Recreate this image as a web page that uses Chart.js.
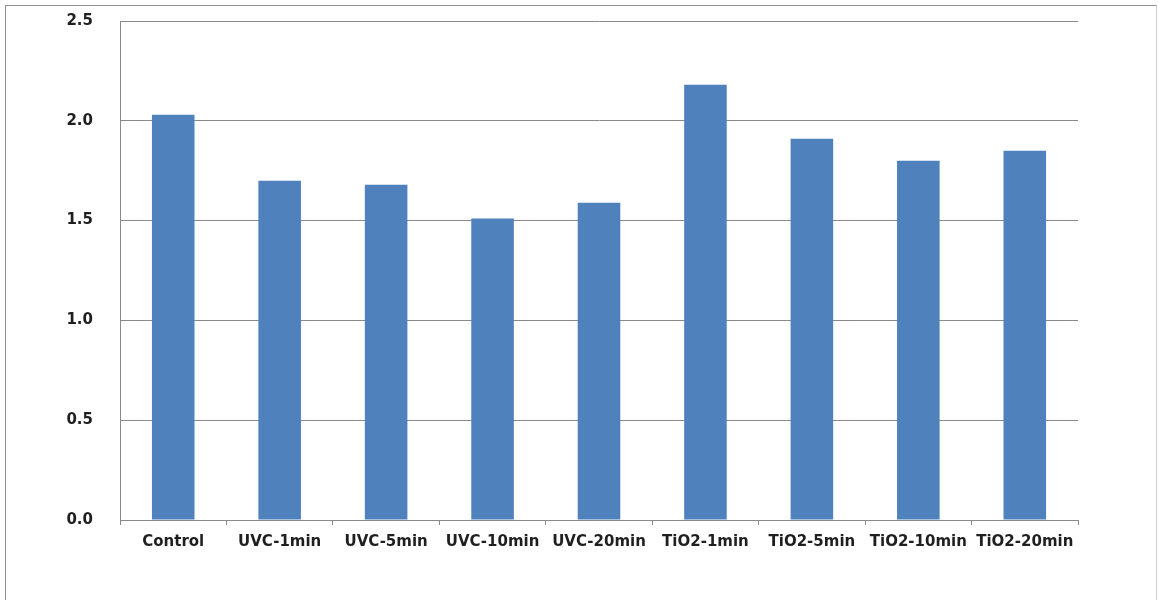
<!DOCTYPE html>
<html>
<head>
<meta charset="utf-8">
<script src="https://cdn.jsdelivr.net/npm/chart.js@4.4.1/dist/chart.umd.min.js"></script>
<style>
  html, body { margin: 0; padding: 0; background: #ffffff; overflow: hidden; }
  #frame {
    position: absolute; left: 5px; top: 5px;
    width: 1152px; height: 620px;
    border-left: 1px solid #8f8f8f;
    border-top: 1px solid #8f8f8f;
    border-right: 1px solid #d2d2d2;
    box-sizing: border-box;
  }
  #chart { position: absolute; left: 0; top: 0; }
</style>
</head>
<body>
<div id="frame"></div>
<canvas id="chart" width="1159" height="600"></canvas>
<script>
// Treatment groups along the x axis
const categories = ['Control', 'UVC-1min', 'UVC-5min', 'UVC-10min', 'UVC-20min',
                    'TiO2-1min', 'TiO2-5min', 'TiO2-10min', 'TiO2-20min'];
// Measured value per treatment
const values = [2.03, 1.70, 1.68, 1.51, 1.59, 2.18, 1.91, 1.80, 1.85];
// Value axis ticks
const yTicks = [0.0, 0.5, 1.0, 1.5, 2.0, 2.5];

const labelFont = { family: "'DejaVu Sans', sans-serif", size: 15, weight: 'bold' };
const axisGray = '#8a8a8a';

new Chart(document.getElementById('chart'), {
  type: 'bar',
  data: {
    labels: categories,
    datasets: [{
      data: values,
      backgroundColor: '#4f81bd',
      borderWidth: 0,
      barPercentage: 0.4,
      categoryPercentage: 1.0
    }]
  },
  options: {
    responsive: false,
    animation: false,
    events: [],
    layout: { padding: { left: 0, right: 81, top: 21, bottom: 40 } },
    plugins: { legend: { display: false }, tooltip: { enabled: false } },
    scales: {
      x: {
        grid: {
          offset: true,
          drawOnChartArea: false,
          drawTicks: true,
          tickLength: 5,
          color: axisGray,
          lineWidth: 1
        },
        border: { display: true, color: axisGray, width: 1 },
        ticks: { color: '#1f1f1f', font: labelFont, padding: 8, maxRotation: 0, autoSkip: false },
        afterFit: (scale) => { scale.height = 40; }
      },
      y: {
        min: 0,
        max: 2.5,
        afterBuildTicks: (scale) => { scale.ticks = yTicks.map(v => ({ value: v })); },
        // invisible tick marks leave the gap between labels and the axis
        grid: { drawTicks: true, tickLength: 27, tickColor: 'rgba(0,0,0,0)', color: axisGray, lineWidth: 1 },
        border: { display: true, color: axisGray, width: 1 },
        ticks: {
          color: '#1f1f1f',
          font: labelFont,
          padding: 0,
          callback: (v) => Number(v).toFixed(1)
        },
        afterFit: (scale) => { scale.width = 120; }
      }
    }
  }
});
</script>
</body>
</html>
